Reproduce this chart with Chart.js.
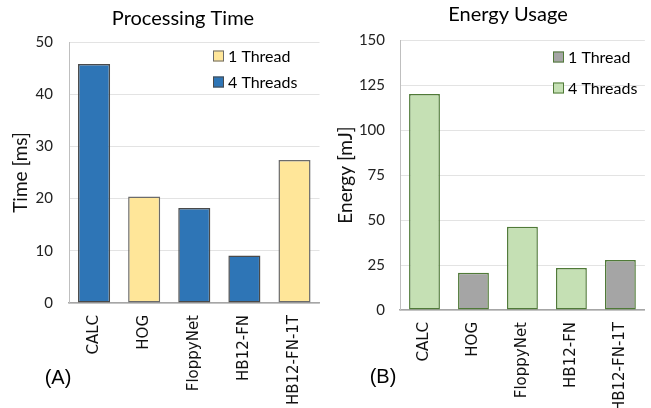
<!DOCTYPE html>
<html><head><meta charset="utf-8">
<script src="https://cdn.jsdelivr.net/npm/chart.js@4"></script>
<style>
body{margin:0;background:#fff;width:651px;height:408px;overflow:hidden;position:relative}
canvas{position:absolute;top:0}
#c1{left:0}
#c2{left:325px}
</style></head>
<body>
<canvas id="c1" width="325" height="408"></canvas>
<canvas id="c2" width="326" height="408"></canvas>
<script>
const categories = ['CALC', 'HOG', 'FloppyNet', 'HB12-FN', 'HB12-FN-1T'];
const seriesNames = ['1 Thread', '4 Threads'];
const timeOneThread = [null, 20.4, null, null, 27.4];
const timeFourThreads = [45.8, null, 18.2, 9.1, null];
const energyOneThread = [null, 20.7, null, null, 27.8];
const energyFourThreads = [120, null, 46.3, 23.3, null];
const timeAxis = {min: 0, max: 50, step: 10};
const energyAxis = {min: 0, max: 150, step: 25};

const UI = "Lato, 'Open Sans', sans-serif";
const LBL = "'DejaVu Sans', sans-serif";

const deco = {
  id: 'deco',
  afterDraw(chart, args, o) {
    const ctx = chart.ctx;
    ctx.save();
    ctx.fillStyle = '#000';
    ctx.font = '20px ' + UI;
    ctx.textAlign = 'center';
    ctx.textBaseline = 'middle';
    ctx.fillText(o.title, o.titleX, o.titleY);
    ctx.font = '20px ' + "'Liberation Sans', sans-serif";
    ctx.fillText(o.label, o.labelX, o.labelY);
    ctx.font = '16px ' + UI;
    ctx.textAlign = 'left';
    chart.data.datasets.forEach((ds, i) => {
      const y = o.legendY + i * o.legendGap;
      ctx.fillStyle = ds.backgroundColor;
      ctx.fillRect(o.legendX, y - 5.5, 11, 11);
      ctx.strokeStyle = ds.borderColor;
      ctx.lineWidth = 1;
      ctx.strokeRect(o.legendX + 0.5, y - 5, 10, 10);
      ctx.fillStyle = '#000';
      ctx.fillText(ds.label, o.legendX + 15, y + 1);
    });
    ctx.restore();
  }
};

const bw = c => (c.raw == null ? 0 : 1.5);

function makeChart(id, d1, d2, c1, c2, bc1, bc2, axis, yTitle, geo) {
  return new Chart(document.getElementById(id), {
    type: 'bar',
    data: {
      labels: categories,
      datasets: [
        {label: seriesNames[0], data: d1, backgroundColor: c1, borderColor: bc1, borderWidth: bw, borderSkipped: false},
        {label: seriesNames[1], data: d2, backgroundColor: c2, borderColor: bc2, borderWidth: bw, borderSkipped: false}
      ]
    },
    options: {
      responsive: false,
      animation: false,
      events: [],
      barPercentage: geo.bar,
      categoryPercentage: 1,
      layout: {padding: {left: 0, right: geo.right, top: geo.top, bottom: 0}},
      plugins: {
        legend: {display: false},
        title: {display: false},
        tooltip: {enabled: false},
        deco: geo.deco
      },
      scales: {
        x: {
          stacked: true,
          grid: {display: false, drawTicks: false},
          border: {display: true, color: '#A6A6A6', width: 1.5},
          ticks: {minRotation: 90, maxRotation: 90, padding: geo.xpad, color: '#111', font: {family: LBL, size: 15}},
          afterFit: s => { s.height = geo.xh; }
        },
        y: {
          stacked: true,
          min: axis.min, max: axis.max,
          grid: {color: '#E3E3E3', lineWidth: 1, drawTicks: false},
          border: {display: true, color: '#BFBFBF', width: 1},
          ticks: {stepSize: axis.step, padding: geo.ypad, color: '#222', font: {family: UI, size: 15}},
          title: {display: true, text: yTitle, color: '#111', font: {family: UI, size: 19}, padding: {top: 9, bottom: 0}},
          afterFit: s => { s.width = geo.yw; }
        }
      }
    },
    plugins: [deco]
  });
}

makeChart('c1', timeOneThread, timeFourThreads, '#FFE699', '#2E75B6', '#6B6B6B', '#4A4A4A',
  timeAxis, 'Time [ms]',
  {bar: 0.64, right: 5, top: 42, xh: 105, yw: 69, xpad: 12, ypad: 16,
   deco: {title: 'Processing Time', titleX: 183, titleY: 19, label: '(A)', labelX: 58, labelY: 378,
          legendX: 213, legendY: 56, legendGap: 26}});

makeChart('c2', energyOneThread, energyFourThreads, '#A5A5A5', '#C5E0B4', '#507A38', '#507A38',
  energyAxis, 'Energy [mJ]',
  {bar: 0.63, right: 6, top: 40, xh: 98, yw: 75, xpad: 12, ypad: 15,
   deco: {title: 'Energy Usage', titleX: 183, titleY: 15, label: '(B)', labelX: 58, labelY: 377,
          legendX: 228, legendY: 57, legendGap: 31}});
</script>
</body></html>
